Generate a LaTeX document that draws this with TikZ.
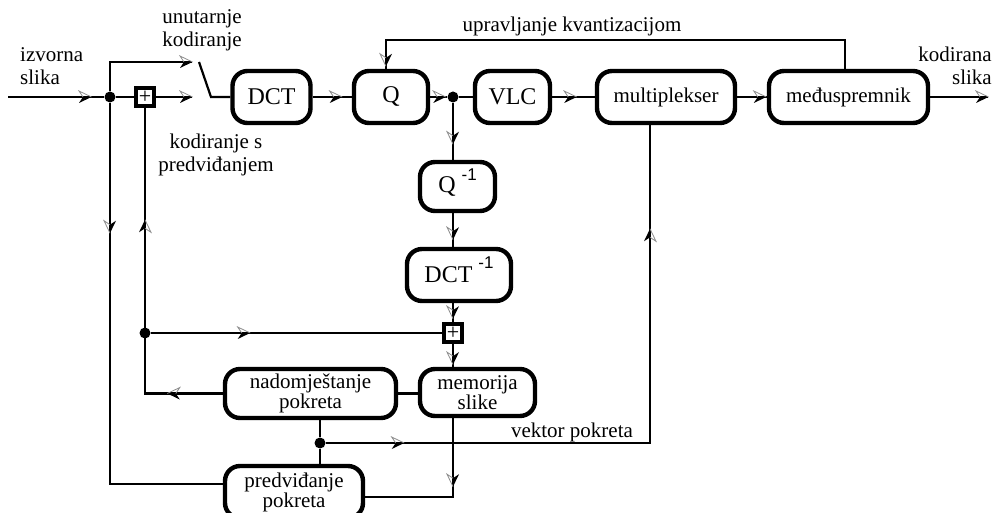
\documentclass[tikz,border=0pt]{standalone}
\usepackage{fontspec}
\setmainfont{Liberation Serif}
\setsansfont{Liberation Sans}
\usetikzlibrary{decorations.markings,calc}

\newcommand\hdR{\fill[black] (1.5pt,0pt) -- (-11pt,-6pt) -- (-7pt,0pt) -- cycle; \draw[black!45,line width=0.8pt] (1.5pt,0pt) -- (-11pt,6pt) -- (-7pt,0pt);}
\newcommand\hdL{\fill[black] (1.5pt,0pt) -- (-11pt,6pt) -- (-7pt,0pt) -- cycle; \draw[black!45,line width=0.8pt] (1.5pt,0pt) -- (-11pt,-6pt) -- (-7pt,0pt);}
\newcommand\supm[1]{\smash{\raisebox{#1}{\sffamily\fontsize{17}{17}\selectfont -1}}}

\tikzset{
  ar/.style={postaction={decorate,decoration={markings,mark=at position #1 with {\hdR}}}},
  al/.style={postaction={decorate,decoration={markings,mark=at position #1 with {\hdL}}}},
  blk/.style={draw, line width=4.4pt, rounded corners=15pt, inner sep=0pt, align=center, font=\fontsize{21}{20}\selectfont},
  big/.style={font=\fontsize{24}{24}\selectfont},
  plusn/.style={draw, line width=4.2pt, minimum size=18pt, inner sep=0pt, font=\fontsize{22}{22}\selectfont},
  dotn/.style={circle, fill, inner sep=0pt, minimum size=11pt},
  lab/.style={font=\fontsize{21}{23}\selectfont, inner sep=0pt},
  con/.style={line width=2.2pt},
}

\begin{document}
\begin{tikzpicture}[x=1pt,y=-1pt]
\useasboundingbox (0,0) rectangle (997,513);

% top row
\coordinate (in) at (8,97);
\node[dotn] (d1) at (110,97) {};
\node[plusn] (p1) at (145,97) {+};
\coordinate (b1) at (192,62);
\coordinate (b2) at (192,97);
\coordinate (s1) at (199,62);
\coordinate (s2) at (211,97);
\node[blk,big,minimum width=78pt,minimum height=52pt] (dct) at (271.5,97) {DCT};
\node[blk,big,minimum width=74pt,minimum height=52pt] (q) at (391,97) {Q};
\node[dotn] (d2) at (453,97) {};
\node[blk,big,minimum width=75pt,minimum height=52pt] (vlc) at (512.5,97) {VLC};
\node[blk,minimum width=138pt,minimum height=52pt] (mux) at (666,97) {multiplekser};
\node[blk,minimum width=159pt,minimum height=52pt] (medj) at (848.5,97) {međuspremnik};
\coordinate (out) at (988,97);
\coordinate (fb1) at (845,40);
\coordinate (fb2) at (386,40);

% middle column
\node[blk,big,minimum width=75pt,minimum height=49pt] (qi) at (457.5,186.5) {Q\hspace{6pt}\supm{12pt}};
\node[blk,big,minimum width=104pt,minimum height=52pt] (di) at (459,275) {DCT\hspace{6pt}\supm{14pt}};
\node[plusn] (p2) at (453,333) {+};
\node[blk,minimum width=115pt,minimum height=47pt] (mem) at (477.5,392.5) {memorija\\slike};

% bottom
\node[blk,minimum width=171pt,minimum height=49pt] (nad) at (310.5,393.5) {nadomještanje\\pokreta};
\node[blk,minimum width=138pt,minimum height=52pt] (predv) at (294,492) {predviđanje\\pokreta};
\node[dotn] (d3) at (145,333) {};
\node[dotn] (d4) at (320,443) {};
\coordinate (vk) at (650,443);
\coordinate (mp) at (453,497);
\coordinate (lp) at (110,484);

% labels
\node[lab, anchor=west, align=left] (l1) at (20,66) {izvorna\\slika};
\node[lab, align=center] (l2) at (202,30) {unutarnje\\kodiranje};
\node[lab, align=center] (l3) at (216,155) {kodiranje s\\predviđanjem};
\node[lab] (l4) at (572,26) {upravljanje kvantizacijom};
\node[lab, anchor=east, align=right] (l5) at (992,66) {kodirana\\slika};
\node[lab] (l6) at (572,432) {vektor pokreta};

% connectors
\draw[con, ar=82pt] (in) -- (d1);
\draw[con, ar=-1pt] (d1) |- (b1);
\draw[con] (d1) -- (p1);
\draw[con, ar=-1pt] (p1) -- (b2);
\draw[con] (s1) -- (s2) -- (dct);
\draw[con, ar=28pt] (dct) -- (q);
\draw[con, ar=-3pt] (q) -- (d2);
\draw[con] (d2) -- (vlc);
\draw[con, ar=23pt] (vlc) -- (mux);
\draw[con, ar=-2pt] (mux) -- (medj);
\draw[con, ar=-1pt] (medj) -- (out);
\draw[con, al=-4pt] (fb1 |- medj.north) -- (fb1) -- (fb2) -- (fb2 |- q.north);

\draw[con, al=40pt] (d2) -- (d2 |- qi.north);
\draw[con, al=25pt] (qi.south -| d2) -- (di.north -| d2);
\draw[con, al=14pt] (di.south -| d2) -- (p2);
\draw[con, al=19pt] (p2) -- (mem.north -| p2);
\draw[con] (nad.east) -- (nad.east -| mem.west);
\draw[con, al=54pt, al=250pt] (nad.west) -| (p1);
\draw[con, ar=98pt] (d3) -- (p2);
\draw[con] (d4 |- nad.south) -- (d4) -- (d4 |- predv.north);
\draw[con, ar=77pt, al=537pt] (d4) -- (vk) -- (vk |- mux.south);
\draw[con, al=67pt] (mem.south -| d2) -- (mp) -- (mp -| predv.east);
\draw[con, al=129pt] (d1) -- (lp) -- (lp -| predv.west);
\end{tikzpicture}
\end{document}
